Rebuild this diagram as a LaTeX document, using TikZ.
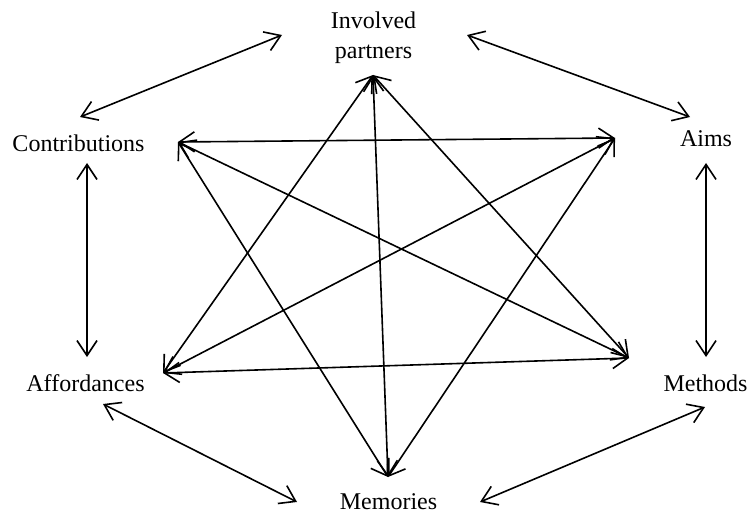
\documentclass[tikz,border=0pt]{standalone}
\usepackage{fontspec}
\setmainfont{Liberation Serif}
\usetikzlibrary{arrows.meta}
\begin{document}
\begin{tikzpicture}[x=1pt,y=-1pt,
  lbl/.style={font=\fontsize{24}{30}\selectfont, inner sep=0pt, align=center, anchor=base},
  link/.style={line width=1.6pt, {Straight Barb[length=15pt,width=20pt]}-{Straight Barb[length=15pt,width=20pt]}}]
\useasboundingbox (0,0) rectangle (749,513);
% labels
\node[lbl] (inv) at (373.5,59) {Involved\\partners};
\node[lbl] (con) at (78.5,152) {Contributions};
\node[lbl] (aim) at (706,147) {Aims};
\node[lbl] (aff) at (85.5,391) {Affordances};
\node[lbl] (met) at (705.5,391) {Methods};
\node[lbl] (mem) at (388.5,509) {Memories};
% hubs of the inner arrows
\coordinate (hI) at (373,75);
\coordinate (hC) at (178,142);
\coordinate (hA) at (615,138);
\coordinate (hF) at (163,373);
\coordinate (hM) at (629,358);
\coordinate (hR) at (388,477);
% free ends of the outer arrows
\coordinate (oCI1) at (80,117);  \coordinate (oCI2) at (282,35);
\coordinate (oIA1) at (467,35);  \coordinate (oIA2) at (690,117);
\coordinate (oAM1) at (706,163); \coordinate (oAM2) at (706,357);
\coordinate (oCF1) at (87,163);  \coordinate (oCF2) at (87,357);
\coordinate (oFR1) at (103,404); \coordinate (oFR2) at (297,502);
\coordinate (oMR1) at (705,407); \coordinate (oMR2) at (480,502);
% outer arrows
\draw[link] (oCI1) -- (oCI2);
\draw[link] (oIA1) -- (oIA2);
\draw[link] (oAM1) -- (oAM2);
\draw[link] (oCF1) -- (oCF2);
\draw[link] (oFR1) -- (oFR2);
\draw[link] (oMR1) -- (oMR2);
% inner arrows
\draw[link] (hC) -- (hA);
\draw[link] (hF) -- (hM);
\draw[link] (hC) -- (hM);
\draw[link] (hA) -- (hF);
\draw[link] (hI) -- (hF);
\draw[link] (hI) -- (hM);
\draw[link] (hI) -- (hR);
\draw[link] (hC) -- (hR);
\draw[link] (hA) -- (hR);
\end{tikzpicture}
\end{document}
